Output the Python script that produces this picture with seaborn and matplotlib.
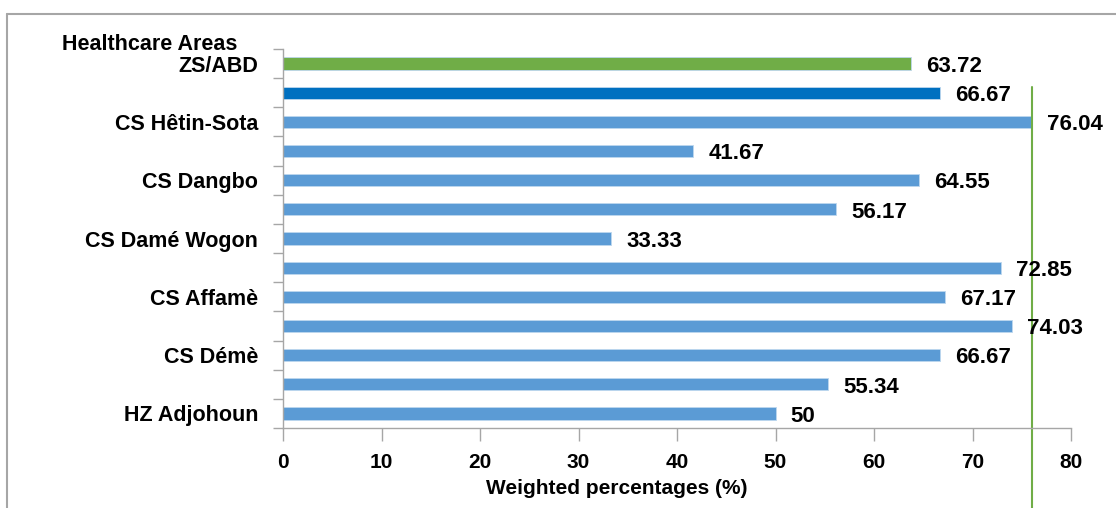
import matplotlib
matplotlib.use("Agg")
import matplotlib.pyplot as plt
from matplotlib.lines import Line2D
from matplotlib import font_manager
import seaborn as sns
import pandas as pd

# ---- data ----
area_labels = ["ZS/ABD", "", "CS Hêtin-Sota", "", "CS Dangbo", "", "CS Damé Wogon",
               "", "CS Affamè", "", "CS Démè", "", "HZ Adjohoun"]
values = [63.72, 66.67, 76.04, 41.67, 64.55, 56.17, 33.33, 72.85, 67.17, 74.03, 66.67, 55.34, 50]
value_labels = ["63.72", "66.67", "76.04", "41.67", "64.55", "56.17", "33.33",
                "72.85", "67.17", "74.03", "66.67", "55.34", "50"]
bar_colors = ["#70AD47", "#0070C0"] + ["#5B9BD5"] * 11
x_ticks = [0, 10, 20, 30, 40, 50, 60, 70, 80]

sns.set_theme(style="white")
names = {f.name for f in font_manager.fontManager.ttflist}
fam = [n for n in ["Liberation Sans Narrow", "Liberation Sans", "DejaVu Sans"] if n in names]
plt.rcParams["font.family"] = fam
plt.rcParams["font.weight"] = "bold"
for k in ["text.color", "axes.labelcolor", "xtick.color", "ytick.color"]:
    plt.rcParams[k] = "black"

W, H = 1116, 508
fig = plt.figure(figsize=(W / 100, H / 100), dpi=100)
ax = fig.add_axes([283 / W, 1 - 428 / H, (1071 - 283) / W, (428 - 49) / H])

df = pd.DataFrame({"key": [str(i) for i in range(len(values))], "value": values})
sns.barplot(data=df, y="key", x="value", hue="key", palette=bar_colors, orient="h",
            width=0.42, legend=False, ax=ax, saturation=1,
            edgecolor="#BDD7EE", linewidth=0.6)

gray = "#A6A6A6"
ax.set_xlim(x_ticks[0], x_ticks[-1])
ax.set_ylim(len(values) - 0.5, -0.5)
ax.set_xticks(x_ticks)
ax.set_xticklabels([str(t) for t in x_ticks], fontsize=15, fontweight="bold", color="black")
ax.tick_params(axis="x", direction="out", length=9, width=1, color=gray, pad=9, bottom=True,
               labelcolor="black")
ax.set_yticks(range(len(values)))
ax.set_yticklabels(area_labels, fontsize=15.5, fontweight="bold", color="black")
ax.set_yticks([i - 0.5 for i in range(len(values) + 1)], minor=True)
ax.tick_params(axis="y", which="major", length=0, pad=18, labelcolor="black")
ax.tick_params(axis="y", which="minor", direction="out", length=7, width=1, color=gray, left=True)
ax.set_ylabel("")
ax.set_xlabel("Weighted percentages (%)", fontsize=15, fontweight="bold", color="black")
ax.xaxis.set_label_coords((617 - 283) / (1071 - 283), -0.135)
for s in ["top", "right"]:
    ax.spines[s].set_visible(False)
for s in ["left", "bottom"]:
    ax.spines[s].set_color(gray)
    ax.spines[s].set_linewidth(1)

for i, (v, lab) in enumerate(zip(values, value_labels)):
    ax.annotate(lab, xy=(v, i), xytext=(11, -2), textcoords="offset points",
                ha="left", va="center", fontsize=16, fontweight="bold", color="black")

ax.axvline(max(values), ymin=-0.25, ymax=(428 - 87) / (428 - 49), color="#70AD47",
           lw=1.5, clip_on=False)

fig.text(62 / W, 1 - 45 / H, "Healthcare Areas", ha="left", va="center",
         fontsize=15.5, fontweight="bold", color="black")

fig.add_artist(Line2D([7 / W, 7 / W], [0, 1 - 14 / H], transform=fig.transFigure, color=gray, lw=1.5))
fig.add_artist(Line2D([7 / W, 1], [1 - 14 / H, 1 - 14 / H], transform=fig.transFigure, color=gray, lw=1.5))

fig.savefig("out.png", dpi=100)
